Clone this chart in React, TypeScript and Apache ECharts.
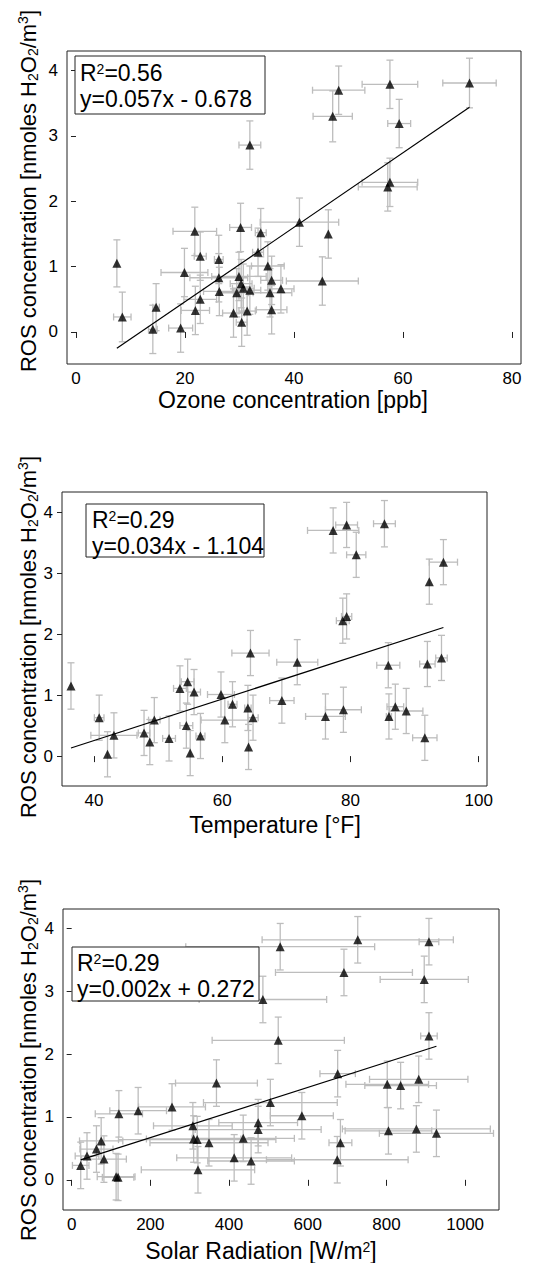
import React, { useEffect, useRef } from "react";
import * as echarts from "echarts";

const FONT = "Liberation Sans";

// ---- Panel 1: Ozone ----
const ozoneX = [7.5, 8.5, 14.1, 14.7, 19.2, 19.9, 21.8, 21.9, 22.8, 22.8, 26.2, 26.2, 26.3, 28.9, 29.5, 29.9, 30.2, 30.3, 30.4, 30.7, 31.4, 31.9, 31.9, 33.4, 33.9, 35.2, 35.6, 35.9, 35.9, 37.6, 41.0, 45.2, 46.3, 47.1, 48.2, 57.2, 57.6, 57.6, 59.3, 72.2];
const ozoneY = [1.05, 0.23, 0.04, 0.38, 0.06, 0.91, 1.54, 0.33, 1.16, 0.5, 1.11, 0.83, 0.62, 0.29, 0.6, 0.85, 1.6, 0.74, 0.15, 0.67, 0.32, 2.86, 0.64, 1.22, 1.52, 1.01, 0.6, 0.79, 0.34, 0.66, 1.68, 0.78, 1.5, 3.3, 3.7, 2.22, 2.29, 3.79, 3.19, 3.81];
const ozoneXErr = [0, 1.6, 0.8, 0.6, 2.2, 4.3, 4.0, 2.6, 1.1, 3.0, 0.8, 5.3, 2.9, 2.0, 3.0, 5.0, 2.0, 2.0, 1.0, 2.0, 1.5, 2.0, 2.0, 1.0, 1.0, 3.0, 4.0, 2.0, 2.8, 2.4, 7.2, 6.6, 0, 3.6, 4.8, 5.4, 5.1, 5.1, 2.1, 4.9];
const ozoneYErr = [0.36, 0.38, 0.37, 0.36, 0.37, 0.37, 0.37, 0.37, 0.37, 0.37, 0.37, 0.37, 0.37, 0.37, 0.37, 0.37, 0.37, 0.37, 0.37, 0.37, 0.37, 0.37, 0.37, 0.37, 0.37, 0.37, 0.37, 0.37, 0.37, 0.37, 0.37, 0.37, 0.37, 0.39, 0.37, 0.37, 0.37, 0.37, 0.37, 0.38];
const ozoneFit = { slope: 0.057, intercept: -0.678 };
const ozoneTicks = [0, 20, 40, 60, 80];

// ---- Panel 2: Temperature ----
const tempX = [36.4, 40.8, 42.1, 43.1, 47.8, 48.7, 49.4, 51.7, 53.4, 54.4, 54.6, 55.0, 55.6, 56.6, 59.8, 60.4, 61.6, 64.0, 64.1, 64.4, 64.8, 69.3, 71.7, 76.1, 77.3, 78.8, 78.9, 79.4, 79.4, 80.9, 85.3, 85.9, 86.0, 87.0, 88.7, 91.6, 92.0, 92.3, 94.2, 94.5];
const tempY = [1.15, 0.63, 0.03, 0.34, 0.38, 0.23, 0.59, 0.29, 1.11, 0.5, 1.22, 0.05, 1.05, 0.33, 1.01, 0.59, 0.85, 0.79, 0.15, 1.69, 0.63, 0.91, 1.54, 0.65, 3.7, 2.22, 0.76, 2.29, 3.79, 3.3, 3.81, 1.49, 0.65, 0.81, 0.74, 0.3, 1.51, 2.86, 1.61, 3.18];
const tempXErr = [0, 0.75, 0, 3.6, 0.9, 0, 0.9, 1.0, 1.0, 1.0, 1.0, 0, 1.0, 0.7, 2.1, 3.7, 0.7, 0.5, 0, 2.9, 0.8, 1.9, 3.2, 3.1, 4.0, 1.0, 2.8, 0.8, 1.7, 1.5, 1.7, 1.8, 0.4, 1.3, 2.6, 1.9, 1.2, 0, 0.9, 2.2];
const tempYErr = [0.38, 0.37, 0.37, 0.37, 0.37, 0.37, 0.37, 0.37, 0.37, 0.37, 0.37, 0.37, 0.37, 0.37, 0.37, 0.37, 0.37, 0.37, 0.37, 0.37, 0.37, 0.37, 0.37, 0.37, 0.37, 0.37, 0.37, 0.37, 0.37, 0.37, 0.38, 0.37, 0.37, 0.37, 0.37, 0.37, 0.37, 0.37, 0.37, 0.37];
const tempFit = { slope: 0.034, intercept: -1.104 };
const tempTicks = [40, 60, 80, 100];

// ---- Panel 3: Solar radiation ----
const solarX = [23, 39, 63, 75, 82, 113, 118, 120, 169, 255, 308, 310, 319, 321, 349, 368, 413, 436, 456, 474, 474, 486, 505, 525, 530, 585, 675, 676, 683, 692, 727, 802, 805, 836, 876, 882, 896, 908, 908, 927];
const solarY = [0.23, 0.38, 0.49, 0.62, 0.33, 0.05, 0.04, 1.05, 1.1, 1.16, 0.86, 0.65, 0.64, 0.16, 0.59, 1.54, 0.35, 0.66, 0.3, 0.91, 0.8, 2.87, 1.23, 2.22, 3.71, 1.02, 0.32, 1.69, 0.59, 3.3, 3.82, 1.52, 0.78, 1.5, 0.81, 1.6, 3.19, 2.29, 3.79, 0.74];
const solarXErr = [21, 30, 42, 55, 57, 48, 40, 60, 72, 85, 100, 120, 200, 144, 150, 104, 146, 130, 110, 100, 160, 162, 170, 168, 240, 80, 180, 45, 29, 174, 243, 105, 110, 91, 188, 125, 112, 21, 25, 145];
const solarYErr = [0.37, 0.37, 0.37, 0.37, 0.37, 0.37, 0.37, 0.37, 0.37, 0.37, 0.37, 0.37, 0.37, 0.37, 0.37, 0.37, 0.37, 0.37, 0.37, 0.37, 0.37, 0.37, 0.37, 0.37, 0.37, 0.37, 0.37, 0.37, 0.37, 0.37, 0.37, 0.37, 0.37, 0.37, 0.37, 0.37, 0.37, 0.37, 0.37, 0.37];
const solarFit = { slope: 0.002, intercept: 0.272 };
const solarTicks = [0, 200, 400, 600, 800, 1000];

const rosTicks = [0, 1, 2, 3, 4];

type Panel = {
  x: number[]; y: number[]; xe: number[]; ye: number[];
  fit: { slope: number; intercept: number };
  xTicks: number[]; xMin: number; xMax: number; yMin: number; yMax: number;
  grid: { left: number; top: number; width: number; height: number };
};

const panels: Panel[] = [
  { x: ozoneX, y: ozoneY, xe: ozoneXErr, ye: ozoneYErr, fit: ozoneFit, xTicks: ozoneTicks, xMin: -1.65, xMax: 81.65, yMin: -0.49, yMax: 4.3, grid: { left: 67, top: 51, width: 454, height: 313 } },
  { x: tempX, y: tempY, xe: tempXErr, ye: tempYErr, fit: tempFit, xTicks: tempTicks, xMin: 35, xMax: 101.3, yMin: -0.49, yMax: 4.33, grid: { left: 62, top: 492, width: 425, height: 294 } },
  { x: solarX, y: solarY, xe: solarXErr, ye: solarYErr, fit: solarFit, xTicks: solarTicks, xMin: -22, xMax: 1086, yMin: -0.48, yMax: 4.31, grid: { left: 63, top: 909, width: 436, height: 301 } },
];

const richY = {
  m: { fontSize: 22, fontFamily: FONT, color: "#000", lineHeight: 24 },
  s: { fontSize: 14, fontFamily: FONT, color: "#000", lineHeight: 14, verticalAlign: "bottom" },
  p: { fontSize: 14, fontFamily: FONT, color: "#000", lineHeight: 9, verticalAlign: "top" },
};
const richX = {
  m: { fontSize: 23, fontFamily: FONT, color: "#000", lineHeight: 22 },
  p: { fontSize: 14, fontFamily: FONT, color: "#000", lineHeight: 8, verticalAlign: "top" },
};
const richL = {
  m: { fontSize: 23, fontFamily: FONT, color: "#000", lineHeight: 22 },
  p: { fontSize: 14, fontFamily: FONT, color: "#000", lineHeight: 6, verticalAlign: "top" },
};

const yTitle = "{m|ROS concentration [nmoles H}{s|2}{m|O}{s|2}{m|/m}{p|3}{m|]}";

function richText(x: number, y: number, text: string, r: any, rotation = 0, align = "center") {
  return {
    type: "text", x, y, rotation, z: 100,
    style: { text, rich: r, align, verticalAlign: "middle", fill: "#000" },
  };
}

function legendBox(l: number, t: number, w: number, h: number, line1: string, line2: string, tx: number, y1: number, y2: number) {
  return {
    type: "group", z: 100,
    children: [
      { type: "rect", shape: { x: l, y: t, width: w, height: h }, style: { fill: "#fff", stroke: "#222", lineWidth: 1 }, z: 100 },
      { type: "text", x: tx, y: y1, z: 101, style: { text: line1, rich: richL, align: "left", verticalAlign: "middle" } },
      { type: "text", x: tx, y: y2, z: 101, style: { text: line2, fontSize: 23, lineHeight: 22, fontFamily: FONT, fill: "#000", align: "left", verticalAlign: "middle" } },
    ],
  };
}

export default function App() {
  const ref = useRef<HTMLDivElement>(null);
  useEffect(() => {
    document.body.style.margin = "0";
    const chart = echarts.init(ref.current!, null, { renderer: "svg" });
    const grid: any[] = [];
    const xAxis: any[] = [];
    const yAxis: any[] = [];
    const series: any[] = [];
    panels.forEach((p, i) => {
      grid.push({ ...p.grid, show: true, borderColor: "#222", borderWidth: 1, backgroundColor: "transparent", containLabel: false });
      xAxis.push({
        type: "value", gridIndex: i, min: p.xMin, max: p.xMax,
        axisLine: { show: false },
        axisTick: { show: true, length: 6, customValues: p.xTicks, lineStyle: { color: "#222", width: 1 } },
        axisLabel: { customValues: p.xTicks, fontSize: 17, fontFamily: FONT, color: "#000", margin: 6, formatter: (v: number) => String(v) },
        splitLine: { show: false },
      });
      yAxis.push({
        type: "value", gridIndex: i, min: p.yMin, max: p.yMax,
        axisLine: { show: false },
        axisTick: { show: true, length: 5, customValues: rosTicks, lineStyle: { color: "#222", width: 1 } },
        axisLabel: { customValues: rosTicks, fontSize: 17, fontFamily: FONT, color: "#000", margin: 9, formatter: (v: number) => String(v) },
        splitLine: { show: false },
      });
      const data = p.x.map((xv, k) => [xv, p.y[k], p.xe[k], p.ye[k]]);
      series.push({
        type: "custom", xAxisIndex: i, yAxisIndex: i, data, z: 2, silent: true,
        encode: { x: 0, y: 1 },
        renderItem: (_params: any, api: any) => {
          const x = api.value(0), y = api.value(1), xe = api.value(2), ye = api.value(3);
          const style = { stroke: "#bdbdbd", lineWidth: 1.3, fill: null };
          const children: any[] = [];
          const cap = 3.5;
          if (ye > 0) {
            const t = api.coord([x, y + ye]);
            const b = api.coord([x, y - ye]);
            children.push({ type: "line", shape: { x1: t[0], y1: t[1], x2: b[0], y2: b[1] }, style });
            children.push({ type: "line", shape: { x1: t[0] - cap, y1: t[1], x2: t[0] + cap, y2: t[1] }, style });
            children.push({ type: "line", shape: { x1: b[0] - cap, y1: b[1], x2: b[0] + cap, y2: b[1] }, style });
          }
          if (xe > 0) {
            const l = api.coord([x - xe, y]);
            const r = api.coord([x + xe, y]);
            children.push({ type: "line", shape: { x1: l[0], y1: l[1], x2: r[0], y2: r[1] }, style });
            children.push({ type: "line", shape: { x1: l[0], y1: l[1] - cap, x2: l[0], y2: l[1] + cap }, style });
            children.push({ type: "line", shape: { x1: r[0], y1: r[1] - cap, x2: r[0], y2: r[1] + cap }, style });
          }
          return { type: "group", children };
        },
      });
      const x0 = Math.min(...p.x), x1 = Math.max(...p.x);
      series.push({
        type: "line", xAxisIndex: i, yAxisIndex: i, symbol: "none", z: 3, silent: true,
        data: [[x0, p.fit.slope * x0 + p.fit.intercept], [x1, p.fit.slope * x1 + p.fit.intercept]],
        lineStyle: { color: "#000", width: 1.2 },
      });
      series.push({
        type: "scatter", xAxisIndex: i, yAxisIndex: i, symbol: "triangle", symbolSize: 9, z: 4, silent: true,
        data: p.x.map((xv, k) => [xv, p.y[k]]),
        itemStyle: { color: "#000" },
      });
    });

    const graphic: any[] = [
      richText(28, 191, yTitle, richY, Math.PI / 2),
      richText(28, 637, yTitle, richY, Math.PI / 2),
      richText(28, 1060, yTitle, richY, Math.PI / 2),
      richText(293, 400, "{m|Ozone concentration [ppb]}", richX),
      richText(275, 825, "{m|Temperature [°F]}", richX),
      richText(261, 1251, "{m|Solar Radiation [W/m}{p|2}{m|]}", richX),
      legendBox(75, 56, 190, 58, "{m|R}{p|2}{m|=0.56}", "y=0.057x - 0.678", 80, 73, 99),
      legendBox(86, 504, 178, 53, "{m|R}{p|2}{m|=0.29}", "y=0.034x - 1.104", 92, 520, 546),
      legendBox(72, 947, 187, 54, "{m|R}{p|2}{m|=0.29}", "y=0.002x + 0.272", 77, 963, 989),
    ];

    chart.setOption({ animation: false, grid, xAxis, yAxis, series, graphic });
    return () => chart.dispose();
  }, []);
  return <div ref={ref} style={{ position: "absolute", left: 0, top: 0, width: 536, height: 1263, background: "#fff" }} />;
}
